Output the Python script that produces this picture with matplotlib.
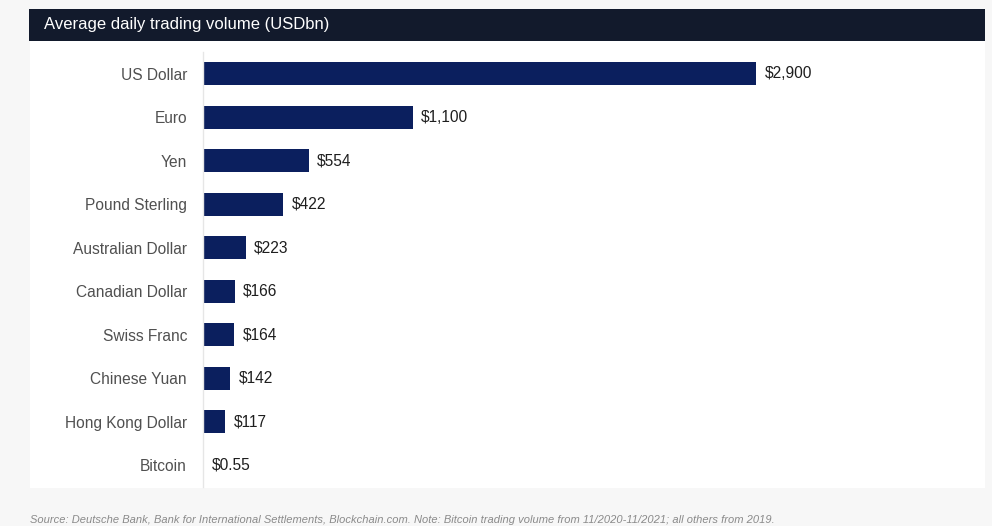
import numpy as np
import matplotlib.pyplot as plt
from matplotlib.patches import Rectangle

currencies = ['US Dollar', 'Euro', 'Yen', 'Pound Sterling', 'Australian Dollar',
              'Canadian Dollar', 'Swiss Franc', 'Chinese Yuan', 'Hong Kong Dollar', 'Bitcoin']
volumes = [2900, 1100, 554, 422, 223, 166, 164, 142, 117, 0.55]
value_labels = ['$2,900', '$1,100', '$554', '$422', '$223', '$166', '$164', '$142', '$117', '$0.55']

W, H = 992, 526
fig = plt.figure(figsize=(W / 100, H / 100), dpi=100, facecolor='#f7f7f7')

# white panel and dark header band (behind the axes)
fig.patches.append(Rectangle((30 / W, 1 - 488 / H), 955 / W, 447 / H,
                             transform=fig.transFigure, facecolor='white', edgecolor='none', zorder=-2))
fig.patches.append(Rectangle((29 / W, 1 - 41 / H), 956 / W, 32 / H,
                             transform=fig.transFigure, facecolor='#121a2c', edgecolor='none', zorder=-1))
fig.text(44 / W, 1 - 25 / H, 'Average daily trading volume (USDbn)', color='white',
         fontsize=12, va='center', ha='left', family='Liberation Sans')

ax = fig.add_axes([203 / W, 1 - 487 / H, 782 / W, 435 / H])
ax.set_facecolor('none')
y = np.arange(len(currencies))
ax.barh(y, volumes, height=0.53, color='#0b1f5e')
ax.set_ylim(len(currencies) - 0.5, -0.5)
ax.set_xlim(0, 2900 * 782 / 553)

for yi, v, lab in zip(y, volumes, value_labels):
    ax.text(v + 45, yi, lab, va='center', ha='left', fontsize=11.2, color='#1e1e1e',
            family='Liberation Sans')

ax.set_yticks(y)
ax.set_yticklabels(currencies, fontsize=11.2, color='#505050', family='Liberation Sans')
ax.tick_params(axis='y', length=0, pad=11.5)
ax.set_xticks([])
for side in ['top', 'right', 'bottom']:
    ax.spines[side].set_visible(False)
ax.spines['left'].set_color('#e6e6e6')
ax.spines['left'].set_linewidth(1)

fig.text(30 / W, 1 - 520 / H,
         'Source: Deutsche Bank, Bank for International Settlements, Blockchain.com. '
         'Note: Bitcoin trading volume from 11/2020-11/2021; all others from 2019.',
         fontsize=8, style='italic', color='#8a8a8a', va='center', ha='left',
         family='Liberation Sans')

fig.savefig('out.png', dpi=100, facecolor=fig.get_facecolor())
